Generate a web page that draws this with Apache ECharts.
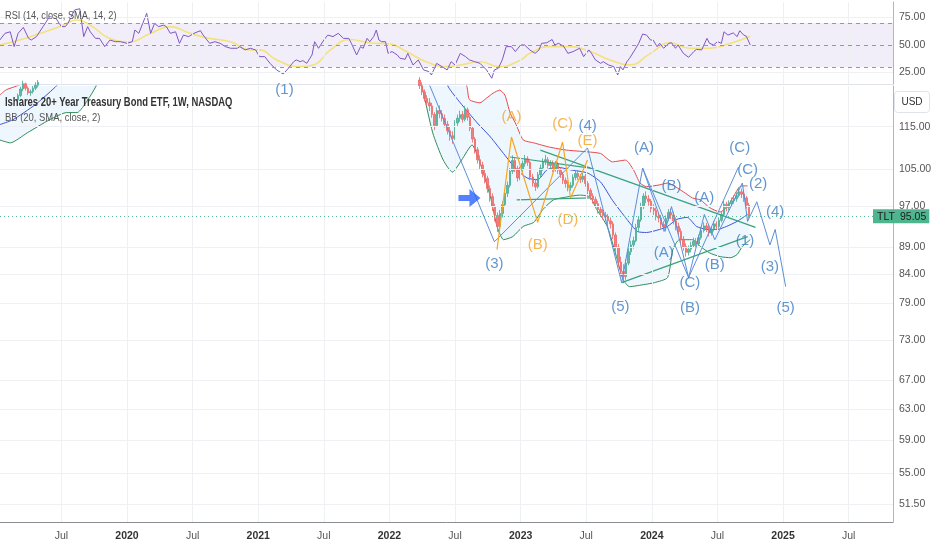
<!DOCTYPE html>
<html><head><meta charset="utf-8">
<script src="https://cdn.jsdelivr.net/npm/echarts@6/dist/echarts.min.js"></script>
<style>html,body{margin:0;padding:0;background:#fff}#c{width:932px;height:550px}</style>
</head><body><div id="c"></div>
<script>
// ---------- data ----------
const xTickValues = [2019.5, 2020, 2020.5, 2021, 2021.5, 2022, 2022.5, 2023, 2023.5, 2024, 2024.5, 2025, 2025.5];
const priceTicks = [51.5, 55, 59, 63, 67, 73, 79, 84, 89, 97, 105, 115];
const rsiTicks = [25, 50, 75];
const rsiBands = [30, 50, 70];
const lastPrice = 95.05;

const rsi = [[2019.03,54.5],[2019.07,60.6],[2019.11,62],[2019.14,48.5],[2019.17,60.6],[2019.21,66],[2019.22,66.7],[2019.25,56],[2019.27,54.5],[2019.31,57.6],[2019.36,66.7],[2019.41,75.8],[2019.46,74],[2019.50,66.7],[2019.53,66.7],[2019.55,69.7],[2019.60,81.8],[2019.64,83],[2019.67,57.6],[2019.70,66.7],[2019.72,62],[2019.76,56],[2019.79,56],[2019.83,48.5],[2019.87,54.5],[2019.91,53],[2019.95,53],[2020.00,51.5],[2020.04,53],[2020.06,63.6],[2020.09,60.6],[2020.12,69.7],[2020.15,78.8],[2020.18,60.6],[2020.21,69.7],[2020.24,66.7],[2020.28,68],[2020.30,66.7],[2020.33,60.6],[2020.37,62],[2020.40,51.5],[2020.43,59],[2020.47,57.6],[2020.51,60.6],[2020.56,63],[2020.58,59],[2020.61,54.5],[2020.63,51.5],[2020.67,53],[2020.71,51.5],[2020.75,48.5],[2020.79,47],[2020.84,47],[2020.86,48.5],[2020.90,45.5],[2020.94,47],[2020.98,45.5],[2021.01,39.4],
[2021.05,39.4],[2021.09,33.3],[2021.14,27.3],[2021.19,23.6],[2021.23,28.8],[2021.27,34.8],[2021.29,36.4],[2021.32,34.8],[2021.34,35.8],[2021.37,33.3],[2021.41,40.9],[2021.43,53],[2021.46,47],[2021.50,54.5],[2021.53,59],[2021.57,57.6],[2021.61,60.6],[2021.65,56],[2021.69,56],[2021.71,51.5],[2021.75,40.9],[2021.78,48.5],[2021.80,47],[2021.83,56],[2021.85,53],[2021.88,57.6],[2021.90,63.6],[2021.92,54.5],[2021.94,53],[2021.97,53],[2021.99,42.4],[2022.02,44],[2022.06,40.9],[2022.08,37.9],[2022.12,37],[2022.14,42.4],[2022.18,31.8],[2022.22,36.4],[2022.26,27.3],[2022.30,25.8],[2022.32,22.7],[2022.36,33.3],[2022.40,30.3],[2022.44,27.3],[2022.47,34.8],[2022.50,31.8],[2022.54,42.4],[2022.58,39.4],[2022.61,36.4],[2022.65,34.8],[2022.69,33.3],[2022.74,27.3],[2022.78,19.7],[2022.80,27.3],[2022.83,28.8],[2022.86,36.4],[2022.89,48.5],[2022.93,48.5],[2022.96,44],[2023.00,50],
[2023.03,50],[2023.07,45.5],[2023.11,42.4],[2023.14,45.5],[2023.16,51.5],[2023.20,52],[2023.24,55],[2023.26,50],[2023.29,51.5],[2023.33,48.5],[2023.36,42.4],[2023.40,44],[2023.45,47],[2023.48,39.4],[2023.52,45.5],[2023.54,42.4],[2023.57,36.4],[2023.61,33.3],[2023.63,34.8],[2023.67,31.8],[2023.71,30.3],[2023.74,22.7],[2023.76,30.3],[2023.78,27.3],[2023.81,34.8],[2023.83,37.9],[2023.87,45.5],[2023.90,51.5],[2023.93,60],[2023.96,59],[2023.99,54.5],[2024.01,54.5],[2024.04,48.5],[2024.06,51.5],[2024.09,47],[2024.13,51.5],[2024.15,52],[2024.18,47],[2024.20,50],[2024.24,42.4],[2024.28,38.8],[2024.32,44],[2024.34,46],[2024.38,45.5],[2024.42,56],[2024.44,51.5],[2024.47,50],[2024.50,53],[2024.53,51.5],[2024.55,62],[2024.58,59],[2024.62,61],[2024.65,57.6],[2024.67,63],[2024.70,59],[2024.72,58],[2024.75,50]];

const rsiSma = [[2019.03,50],[2019.18,54.5],[2019.34,60.6],[2019.49,66.7],[2019.62,72.7],[2019.72,68],[2019.87,56],[2020.02,53],[2020.18,60.6],[2020.33,66.7],[2020.48,60.6],[2020.63,56],[2020.79,53],[2020.94,45.5],[2021.01,45.5],[2021.14,36.4],[2021.32,30.3],[2021.42,31.8],[2021.55,45.5],[2021.70,55],[2021.85,52],[2022.00,51],[2022.13,44],[2022.28,34.8],[2022.44,30.3],[2022.54,31.8],[2022.69,34.8],[2022.84,30.3],[2023.00,36.4],[2023.07,42.4],[2023.22,48.5],[2023.38,48.5],[2023.53,44],[2023.68,36.4],[2023.83,31.8],[2023.99,42.4],[2024.14,52],[2024.29,47],[2024.44,47],[2024.60,51.5],[2024.75,58]];

// weekly bars [open, close, low, high]
const bars2019Start = 2019.17;
const bars2019 = [[121.8,122.9,121.2,123.4],[122.9,124.6,122.5,125.2],[124.6,126.0,124.0,126.8],[126.0,124.8,124.2,126.3],[124.8,123.6,123.0,125.3],[123.6,123.9,122.8,124.5],[123.9,124.8,123.4,125.4],[124.8,125.6,124.3,126.4],[125.6,126.4,125.0,127.0],[126.4,128.0,126.0,128.6]];
const bars2022Start = 2022.23;
const bars2022 = [
[127.0,125.5,124.6,127.8],[125.5,123.8,123.0,126.4],[123.8,122.1,121.3,124.5],[122.1,121.0,120.1,123.0],[121.0,120.2,118.9,122.2],[120.2,118.0,117.2,121.0],[118.0,115.3,114.2,118.6],[115.3,119.0,114.9,119.8],[119.0,118.2,117.1,120.3],[118.2,117.0,116.3,119.1],
[117.0,115.6,114.8,118.0],[115.6,114.0,113.1,116.4],[114.0,112.8,111.6,115.0],[112.8,112.2,110.9,113.9],[112.2,115.9,111.8,116.6],[115.9,117.1,115.0,118.0],[117.1,118.0,116.2,119.0],[118.0,116.8,116.0,118.9],[116.8,119.2,116.3,120.2],[119.2,117.3,116.5,119.8],
[117.3,114.6,113.9,117.8],[114.6,112.0,111.2,115.1],[112.0,109.5,108.6,112.5],[109.5,107.2,106.3,110.1],[107.2,106.0,105.1,108.2],[106.0,104.1,103.2,106.7],[104.1,103.0,101.9,105.0],[103.0,100.8,99.9,103.6],[100.8,99.1,98.0,101.5],[99.1,97.0,96.1,99.8],
[97.0,95.2,94.0,97.6],[95.2,93.0,91.9,95.8],[93.0,95.6,92.4,96.3],[95.6,97.4,94.8,98.1],[97.4,99.8,96.9,100.5],[99.8,101.5,99.0,102.3],[101.5,104.6,101.0,105.3],[104.6,107.0,104.0,108.2],[107.0,105.2,104.4,107.6],[105.2,103.1,102.3,105.8],
[103.1,104.9,102.6,105.6],[104.9,106.3,104.2,107.0],[106.3,107.4,105.6,108.3],[107.4,106.6,105.8,108.0],[106.6,103.3,102.6,107.0],[103.3,102.0,101.2,104.0],[102.0,101.2,100.3,102.9],[101.2,103.8,100.8,104.4],[103.8,105.3,103.1,106.1],[105.3,106.8,104.7,107.5],
[106.8,107.2,106.0,108.3],[107.2,105.9,105.2,107.8],[105.9,106.4,105.0,107.1],[106.4,105.1,104.4,107.0],[105.1,106.2,104.5,106.9],[106.2,104.8,104.0,106.7],[104.8,103.9,103.1,105.4],[103.9,102.6,101.8,104.4],[102.6,101.9,101.0,103.2],[101.9,101.0,100.2,102.5],
[101.0,101.5,100.3,102.2],[101.5,103.2,101.0,103.9],[103.2,104.1,102.6,104.8],[104.1,103.4,102.7,104.7],[103.4,102.8,102.0,104.0],[102.8,103.5,102.2,104.2],[103.5,101.9,101.2,104.0],[101.9,100.4,99.6,102.4],[100.4,99.2,98.4,100.9],[99.2,98.5,97.6,99.8],
[98.5,97.6,96.8,99.1],[97.6,96.4,95.6,98.2],[96.4,95.8,95.0,97.0],[95.8,95.2,94.4,96.5],[95.2,94.9,94.0,95.9],[94.9,94.1,93.2,95.5],[94.1,93.5,92.6,94.8],[93.5,91.3,90.5,94.0],[91.3,89.0,88.1,91.8],[89.0,86.2,85.3,89.6],
[86.2,84.5,83.6,87.2],[84.5,83.6,82.4,85.8],[83.6,86.0,83.0,86.7],[86.0,88.1,85.6,88.8],[88.1,89.4,87.5,90.2],[89.4,90.2,88.7,91.0],[90.2,92.8,89.9,93.5],[92.8,94.3,92.0,95.1],[94.3,97.0,93.9,97.8],[97.0,99.2,96.5,99.8],
[99.2,98.6,97.7,100.2],[98.6,98.1,97.2,99.4],[98.1,96.6,95.8,98.6],[96.6,96.2,95.3,97.5],[96.2,95.0,94.2,96.8],[95.0,94.7,93.8,95.9],[94.7,93.4,92.6,95.3],[93.4,92.9,92.0,94.1],[92.9,94.6,92.4,95.2],[94.6,95.8,94.0,96.5],
[95.8,95.3,94.5,96.6],[95.3,94.1,93.4,96.0],[94.1,93.0,92.2,94.8],[93.0,92.0,91.1,93.7],[92.0,90.5,89.7,92.6],[90.5,89.1,88.3,91.1],[89.1,88.0,87.2,89.7],[88.0,88.6,87.4,89.3],[88.6,89.3,88.0,90.0],[89.3,90.1,88.8,90.8],
[90.1,89.6,88.9,90.7],[89.6,90.8,89.2,91.4],[90.8,92.2,90.4,92.9],[92.2,93.1,91.8,93.8],[93.1,92.6,91.9,93.7],[92.6,91.7,91.0,93.2],[91.7,92.4,91.2,93.0],[92.4,93.5,92.0,94.1],[93.5,93.0,92.3,94.0],[93.0,94.2,92.6,94.8],
[94.2,95.4,93.8,96.0],[95.4,97.5,95.0,98.2],[97.5,96.8,96.0,98.0],[96.8,97.6,96.2,98.3],[97.6,98.2,97.0,98.9],[98.2,98.6,97.6,99.4],[98.6,99.3,98.0,100.0],[99.3,100.1,98.9,101.0],[100.1,99.6,98.8,100.8],[99.6,98.8,98.0,100.2],
[98.8,97.3,96.6,99.2],[97.3,95.05,94.6,97.8]];

const bbUpper2019 = [[2019.03,123.0],[2019.08,124.4],[2019.18,125.7],[2019.26,128]];
const bbMid2019 = [[2019.03,115.5],[2019.13,116.7],[2019.30,120.5],[2019.45,125.0],[2019.53,128]];
const bbLower2019 = [[2019.03,111.8],[2019.11,111.1],[2019.24,113.5],[2019.41,116.7],[2019.54,118.5],[2019.62,118.5],[2019.70,121.7],[2019.76,125.1],[2019.79,128]];
const bbUpper = [[2022.50,132],[2022.59,125.3],[2022.61,121.8],[2022.69,121.0],[2022.74,122.2],[2022.79,123.5],[2022.84,124.3],[2022.88,123.0],[2022.92,118.4],[2022.96,115.9],[2023.02,111.8],[2023.10,111.1],[2023.22,110.1],[2023.35,109.4],[2023.51,109.0],[2023.61,108.6],[2023.70,106.7],[2023.80,107.1],[2023.86,104.9],[2023.91,102.0],[2023.96,101.2],[2024.06,101.6],[2024.12,102.0],[2024.24,100.1],[2024.31,98.8],[2024.37,98.4],[2024.44,96.8],[2024.52,95.9],[2024.57,96.8],[2024.62,99.0],[2024.67,101.2],[2024.73,101.4]];
const bbMid = [[2022.40,130],[2022.45,125.1],[2022.54,121.0],[2022.67,115.9],[2022.77,112.5],[2022.87,108.6],[2022.97,104.9],[2023.05,103.1],[2023.13,102.7],[2023.20,104.9],[2023.28,105.5],[2023.38,104.9],[2023.51,104.2],[2023.61,102.2],[2023.70,98.3],[2023.81,94.4],[2023.89,92.0],[2023.96,91.8],[2024.06,92.4],[2024.12,93.0],[2024.19,94.4],[2024.27,94.8],[2024.34,93.0],[2024.42,92.4],[2024.50,92.4],[2024.57,93.0],[2024.65,94.0],[2024.73,95.4]];
const bbLower = [[2022.22,130],[2022.25,125.1],[2022.33,113.5],[2022.41,107.1],[2022.48,104.4],[2022.55,107.1],[2022.63,110.6],[2022.69,106.5],[2022.77,99.0],[2022.82,93.0],[2022.87,90.4],[2022.94,91.0],[2023.02,93.0],[2023.10,93.8],[2023.17,96.4],[2023.25,98.4],[2023.35,99.0],[2023.45,99.4],[2023.53,99.0],[2023.58,96.4],[2023.66,93.0],[2023.73,87.2],[2023.78,83.1],[2023.83,81.8],[2023.95,82.2],[2024.02,82.5],[2024.12,83.4],[2024.16,88.5],[2024.21,90.4],[2024.31,90.4],[2024.37,89.1],[2024.44,87.9],[2024.52,87.2],[2024.60,87.0],[2024.65,87.6],[2024.69,89.1],[2024.75,90.4]];

const waveBlueMain = [[2022.29,127.0],[2022.80,90.0],[2023.51,109.9],[2023.77,82.5],[2023.93,105.3],[2024.28,83.4],[2024.66,105.5]];
const waveBlueSub = [[2023.93,105.3],[2024.10,92.0],[2024.15,97.0],[2024.28,83.4],[2024.40,95.4],[2024.48,90.4],[2024.69,102.0],[2024.73,94.0],[2024.80,98.0],[2024.90,89.4],[2024.94,92.4],[2025.02,81.8]];
const waveOrange = [[2022.82,88.5],[2022.93,112.5],[2023.13,93.8],[2023.32,111.3],[2023.38,98.8],[2023.51,107.1]];
const trendLines = [
  [[2022.92,107.8],[2023.53,105.3]],
  [[2023.15,109.4],[2024.79,92.8]],
  [[2022.97,98.4],[2023.53,98.8]],
  [[2023.77,82.5],[2024.73,91.0]]
];
const orangeLabels = [['(A)',2022.93,117.4],['(B)',2023.13,89.4],['(C)',2023.32,115.6],['(D)',2023.36,94.4],['(E)',2023.51,111.6]];
const blueLabels = [['(1)',2021.20,124.3],['(3)',2022.80,85.8],['(4)',2023.51,115.2],['(5)',2023.76,78.3],['(A)',2023.94,109.9],['(B)',2024.15,101.3],['(A)',2024.09,87.9],['(C)',2024.29,82.5],['(B)',2024.29,78.2],['(A)',2024.40,98.8],['(B)',2024.48,85.7],['(C)',2024.67,109.9],['(C)',2024.73,104.9],['(2)',2024.81,101.8],['(4)',2024.94,95.9],['(1)',2024.71,90.2],['(3)',2024.90,85.4],['(5)',2025.02,78.2]];
const arrowPoint = [2022.61, 98.8];

const legendTexts = ['RSI (14, close, SMA, 14, 2)', 'Ishares 20+ Year Treasury Bond ETF, 1W, NASDAQ', 'BB (20, SMA, close, 2)'];

// ---------- build ----------
const SANS = "'Liberation Sans',Arial,sans-serif";
const weekStep = 7 / 365.25;
const toWeekly = (start, rows) => rows.map((r, i) => [start + i * weekStep, r[0], r[1], r[2], r[3]]);
const xMin = 2019.032, xMax = 2025.838;

const vLines = xTickValues.map(v => ({ xAxis: v }));
const gridLineStyle = { color: '#eef0f4', width: 1, type: 'solid' };
const axisLabelStyle = { color: '#555', fontSize: 10.5, fontFamily: SANS };

const candleStyle = {
  color: '#4cae96', color0: '#ee6b6b', borderColor: '#4cae96', borderColor0: '#ee6b6b', borderWidth: 1, opacity: 0.85
};

function lineS(data, color, width, extra) {
  return Object.assign({
    type: 'line', xAxisIndex: 1, yAxisIndex: 1, data: data, symbol: 'none', silent: true,
    lineStyle: { color: color, width: width }, z: 3
  }, extra || {});
}

const series = [
  {
    type: 'line', xAxisIndex: 0, yAxisIndex: 0, data: [[xMin, 50]], symbol: 'none', lineStyle: { opacity: 0 }, silent: true, z: 0,
    markLine: { silent: true, symbol: ['none', 'none'], animation: false, label: { show: false }, lineStyle: gridLineStyle,
      data: vLines.concat(rsiTicks.filter(v => v !== 50).map(v => ({ yAxis: v, label: Object.assign({ show: true, position: 'end', distance: 6, formatter: v.toFixed(2) }, axisLabelStyle) }))) }
  },
  {
    name: 'RSI', type: 'line', xAxisIndex: 0, yAxisIndex: 0, data: rsi, symbol: 'none', silent: true,
    lineStyle: { color: '#7e57c2', width: 1 }, z: 4,
    markArea: { silent: true, itemStyle: { color: 'rgba(126,87,194,0.10)' }, data: [[{ yAxis: rsiBands[0] }, { yAxis: rsiBands[2] }]] },
    markLine: { silent: true, symbol: ['none', 'none'], animation: false,
      lineStyle: { color: '#9598a1', type: [4, 4], width: 1 },
      label: { show: false },
      data: rsiBands.map(v => v === 50
        ? { yAxis: v, label: Object.assign({ show: true, position: 'end', distance: 6, formatter: v.toFixed(2) }, axisLabelStyle) }
        : { yAxis: v }) }
  },
  {
    name: 'RSI SMA', type: 'line', xAxisIndex: 0, yAxisIndex: 0, data: rsiSma, symbol: 'none', smooth: 0.5, silent: true,
    lineStyle: { color: '#f3e27c', width: 1.6 }, z: 3
  },
  {
    type: 'line', xAxisIndex: 1, yAxisIndex: 1, data: [[xMin, 100]], symbol: 'none', lineStyle: { opacity: 0 }, silent: true, z: 0,
    markLine: { silent: true, symbol: ['none', 'none'], animation: false, label: { show: false }, lineStyle: gridLineStyle,
      data: vLines.concat(priceTicks.map(v => ({ yAxis: v, label: Object.assign({ show: true, position: 'end', distance: 6, formatter: v.toFixed(2) }, axisLabelStyle) }))) }
  },
  {
    type: 'custom', xAxisIndex: 1, yAxisIndex: 1, clip: true, silent: true, z: 1,
    data: [[2019.5, 100], [2023.5, 100]],
    renderItem: function (params, api) {
      const seg = params.dataIndex === 0 ? [bbUpper2019, bbLower2019] : [bbUpper, bbLower];
      const top = params.coordSys.y;
      const pts = seg[0].map(p => api.coord(p)).concat(seg[1].slice().reverse().map(p => api.coord(p)))
        .map(p => [p[0], Math.max(p[1], top)]);
      return { type: 'polygon', shape: { points: pts }, style: { fill: 'rgba(33,150,243,0.08)' } };
    }
  },
  lineS(bbUpper2019, '#e5484d', 1, { smooth: 0.2, z: 2 }),
  lineS(bbMid2019, '#3b55d6', 1, { smooth: 0.2, z: 2 }),
  lineS(bbLower2019, '#2e8b57', 1, { smooth: 0.2, z: 2 }),
  lineS(bbUpper, '#e5484d', 1, { smooth: 0.2, z: 2 }),
  lineS(bbMid, '#3b55d6', 1, { smooth: 0.2, z: 2 }),
  lineS(bbLower, '#2e8b57', 1, { smooth: 0.2, z: 2 }),
  {
    type: 'candlestick', xAxisIndex: 1, yAxisIndex: 1, data: toWeekly(bars2019Start, bars2019),
    encode: { x: 0, y: [1, 2, 3, 4] }, barWidth: 2, itemStyle: candleStyle, silent: true, clip: true, z: 3
  },
  {
    type: 'candlestick', xAxisIndex: 1, yAxisIndex: 1, data: toWeekly(bars2022Start, bars2022),
    encode: { x: 0, y: [1, 2, 3, 4] }, barWidth: 2, itemStyle: candleStyle, silent: true, clip: true, z: 3,
    markLine: { silent: true, symbol: ['none', 'none'], animation: false,
      data: [{ yAxis: lastPrice,
        lineStyle: { color: '#5bb79a', type: [1, 3], width: 1 },
        label: { show: true, position: 'end', distance: -20, formatter: '{t|TLT}{v|' + lastPrice.toFixed(2) + '}',
          backgroundColor: '#4fb58f', padding: [2, 3, 1, 4], fontFamily: SANS,
          rich: { t: { width: 23, fontSize: 10.5, color: '#1c1c1c', fontFamily: SANS }, v: { fontSize: 10.5, color: '#1c1c1c', fontFamily: SANS } } } }] }
  }
];

trendLines.forEach(seg => series.push(lineS(seg, '#3aa17e', 1.2, { z: 4 })));
series.push(lineS(waveBlueMain, '#5a8fd6', 1, { z: 5 }));
series.push(lineS(waveBlueSub, '#5a8fd6', 1, { z: 5 }));
series.push(lineS(waveOrange, '#f5a623', 1.2, { z: 5 }));

function labelSeries(list, color) {
  return {
    type: 'scatter', xAxisIndex: 1, yAxisIndex: 1, symbol: 'circle', symbolSize: 2, silent: true, z: 6,
    itemStyle: { color: 'rgba(0,0,0,0)' },
    data: list.map(l => ({ name: l[0], value: [l[1], l[2]] })),
    label: { show: true, position: 'inside', formatter: '{b}', color: color, fontSize: 15, fontFamily: SANS }
  };
}
series.push(labelSeries(orangeLabels, '#f5a325'));
series.push(labelSeries(blueLabels, '#3a7cc2'));
series.push({
  type: 'scatter', xAxisIndex: 1, yAxisIndex: 1, silent: true, z: 6,
  symbol: 'path://M0,6 L11,6 L11,0 L22,9 L11,18 L11,12 L0,12 Z', symbolSize: [22, 18],
  itemStyle: { color: '#2962ff' }, data: [arrowPoint]
});

function legendText(text, x, y, size, weight, color, sx) {
  return { type: 'text', x: x, y: y, scaleX: sx, originX: 0, silent: true, z: 50,
    style: { text: text, fill: color, font: weight + ' ' + size + 'px ' + SANS, verticalAlign: 'middle', align: 'left' } };
}

const option = {
  animation: false,
  backgroundColor: '#ffffff',
  grid: [
    { left: 0, right: 39, top: 2, height: 82 },
    { left: 0, right: 39, top: 86, bottom: 28 }
  ],
  xAxis: [
    { type: 'value', gridIndex: 0, min: xMin, max: xMax,
      axisLine: { show: true, onZero: false, lineStyle: { color: '#e0e3eb' } }, axisTick: { show: false }, axisLabel: { show: false }, splitLine: { show: false } },
    { type: 'value', gridIndex: 1, min: xMin, max: xMax,
      axisLine: { show: true, onZero: false, lineStyle: { color: '#8a8d96' } }, axisTick: { show: false }, splitLine: { show: false },
      axisLabel: { show: true, customValues: xTickValues, margin: 9, fontFamily: SANS,
        formatter: v => Number.isInteger(v) ? '{y|' + v + '}' : '{m|Jul}',
        rich: { y: { fontWeight: 'bold', color: '#333', fontSize: 10.5, fontFamily: SANS }, m: { color: '#555', fontSize: 10.5, fontFamily: SANS } } } }
  ],
  yAxis: [
    { type: 'value', gridIndex: 0, position: 'right', min: 14.5, max: 89.1,
      axisLine: { show: true, lineStyle: { color: '#b2b5be' } }, axisTick: { show: false }, axisLabel: { show: false }, splitLine: { show: false } },
    { type: 'log', logBase: 10, gridIndex: 1, position: 'right', min: 49.56, max: 125.4,
      axisLine: { show: true, lineStyle: { color: '#b2b5be' } }, axisTick: { show: false }, axisLabel: { show: false }, splitLine: { show: false } }
  ],
  graphic: [
    legendText(legendTexts[0], 5, 16, 11.5, 'normal', '#555', 0.8),
    legendText(legendTexts[1], 5, 103, 12.5, 'bold', '#333', 0.755),
    legendText(legendTexts[2], 5, 118, 11.5, 'normal', '#555', 0.82),
    { type: 'group', right: 2, top: 91, children: [
      { type: 'rect', shape: { x: 0, y: 0, width: 35, height: 21, r: 3 }, style: { fill: '#fff', stroke: '#e0e3eb', lineWidth: 1 } },
      { type: 'text', x: 17.5, y: 10.5, style: { text: 'USD', fill: '#333', font: '10px ' + SANS, align: 'center', verticalAlign: 'middle' } }
    ] }
  ],
  series: series
};

const chart = echarts.init(document.getElementById('c'));
chart.setOption(option);
</script>
</body></html>
